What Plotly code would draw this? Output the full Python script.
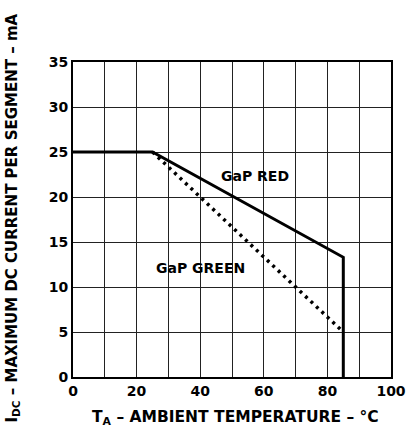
import plotly.graph_objects as go

red_x = [0, 25, 85, 85]
red_y = [25, 25, 13.3, 0]
green_x = [25, 85]
green_y = [25, 5]
x_ticks = [0, 20, 40, 60, 80, 100]
x_grid = [10, 30, 50, 70, 90]
y_ticks = [0, 5, 10, 15, 20, 25, 30, 35]

FONT = "DejaVu Sans, Liberation Sans, Arial, sans-serif"

fig = go.Figure()
fig.add_trace(go.Scatter(x=green_x, y=green_y, mode="lines",
                         line=dict(color="black", width=3.5, dash="3px,4.5px"),
                         showlegend=False))
fig.add_trace(go.Scatter(x=red_x, y=red_y, mode="lines",
                         line=dict(color="black", width=3),
                         showlegend=False))

fig.add_annotation(x=57.3, y=22.3, text="GaP RED", showarrow=False,
                   font=dict(family=FONT, size=14, color="black", weight="bold"))
fig.add_annotation(x=40, y=12.1, text="GaP GREEN", showarrow=False,
                   font=dict(family=FONT, size=14, color="black", weight="bold"))

fig.add_annotation(xref="paper", yref="paper", x=-0.19, y=0.505, xanchor="center", yanchor="middle",
                   text="I<sub>DC</sub> – MAXIMUM DC CURRENT PER SEGMENT – mA",
                   textangle=-90, showarrow=False,
                   font=dict(family=FONT, size=15, color="black", weight="bold"))
fig.add_annotation(xref="paper", yref="paper", x=0.51, y=-0.13, xanchor="center", yanchor="middle",
                   text="T<sub>A</sub> – AMBIENT TEMPERATURE – °C",
                   showarrow=False,
                   font=dict(family=FONT, size=15.5, color="black", weight="bold"))

fig.update_xaxes(range=[0, 100], tickvals=x_ticks, ticks="", automargin=False,
                 showgrid=True, gridcolor="#222", gridwidth=1,
                 showline=True, linecolor="black", linewidth=2, mirror=True,
                 zeroline=False,
                 tickfont=dict(family=FONT, size=14, color="black", weight="bold"),
                 minor=dict(tickvals=x_grid, showgrid=True, gridcolor="#222", gridwidth=1, ticks=""))
fig.update_yaxes(range=[0, 35], tickvals=y_ticks, ticks="", automargin=False,
                 showgrid=True, gridcolor="#222", gridwidth=1,
                 showline=True, linecolor="black", linewidth=2, mirror=True,
                 zeroline=False,
                 tickfont=dict(family=FONT, size=14, color="black", weight="bold"))

fig.update_layout(width=406, height=443, margin=dict(l=73, r=15, t=62, b=66),
                  plot_bgcolor="white", paper_bgcolor="white")
fig.write_html("out.html", config={"displayModeBar": False},
               post_script="document.body.style.margin='0';document.body.style.overflow='hidden';")
